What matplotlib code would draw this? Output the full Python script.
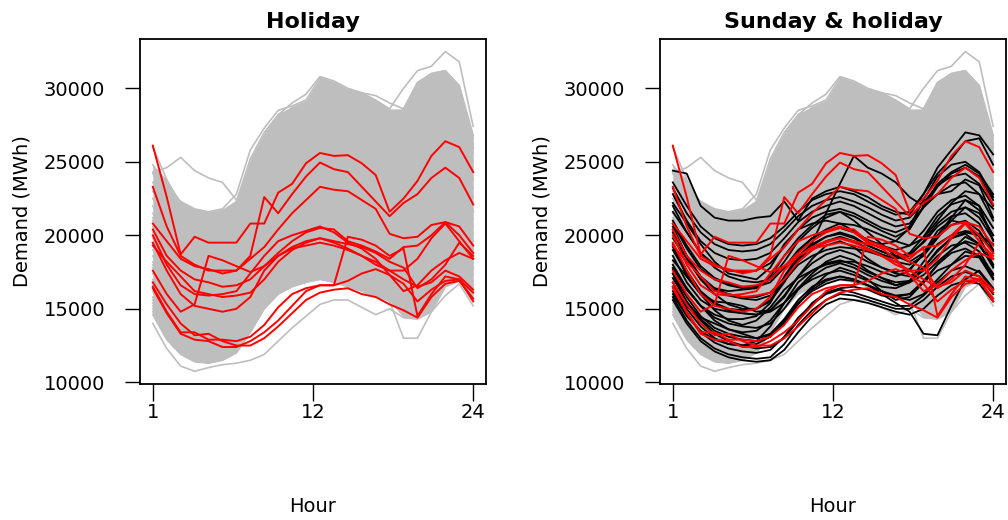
import numpy as np
import matplotlib
matplotlib.use("Agg")
import matplotlib.pyplot as plt

hours = np.arange(1, 25)

# demand per hour, in thousands of MWh
grey_days = [
    [24.8, 23.3, 22.3, 21.8, 21.6, 21.8, 22.8, 25.8, 27.3, 28.5, 28.8, 29.2, 30.7, 30.4, 29.9, 29.7, 29.2, 28.6, 30.0, 31.2, 31.5, 32.5, 31.8, 27.4],
    [24.2, 22.6, 21.5, 21.0, 20.8, 21.0, 22.3, 25.2, 27.0, 28.2, 28.6, 29.0, 29.6, 29.3, 28.8, 28.3, 27.6, 27.2, 28.6, 30.4, 31.0, 31.2, 30.2, 26.8],
    [23.6, 22.0, 21.0, 20.4, 20.2, 20.5, 21.6, 24.5, 26.3, 27.5, 27.9, 28.2, 28.6, 28.3, 27.8, 27.3, 26.8, 26.6, 28.0, 29.8, 30.5, 30.6, 29.6, 26.2],
    [23.0, 21.4, 20.3, 19.8, 19.6, 19.9, 21.0, 23.8, 25.6, 26.8, 27.2, 27.5, 27.9, 27.5, 27.0, 26.6, 26.2, 26.1, 27.6, 29.2, 29.9, 30.0, 29.0, 25.6],
    [22.5, 20.8, 19.8, 19.2, 19.0, 19.3, 20.5, 23.2, 25.2, 26.6, 27.6, 28.4, 29.2, 29.0, 28.6, 28.0, 27.0, 26.0, 26.3, 27.4, 28.2, 28.4, 27.5, 24.6],
    [22.0, 20.3, 19.2, 18.7, 18.5, 18.8, 19.8, 22.5, 24.5, 25.8, 26.3, 26.7, 27.0, 26.7, 26.2, 25.8, 25.4, 25.3, 26.8, 28.5, 29.2, 29.4, 28.3, 25.0],
    [21.5, 19.8, 18.7, 18.2, 18.0, 18.3, 19.3, 21.9, 23.9, 25.1, 25.6, 26.0, 26.3, 26.0, 25.6, 25.2, 24.8, 24.7, 26.2, 27.8, 28.6, 28.8, 27.7, 24.4],
    [21.0, 19.3, 18.2, 17.6, 17.4, 17.7, 18.8, 21.4, 23.4, 24.6, 25.1, 25.5, 25.8, 25.4, 24.9, 24.4, 23.9, 23.8, 25.3, 27.0, 27.7, 27.9, 26.8, 23.8],
    [20.6, 18.9, 17.8, 17.2, 17.0, 17.2, 18.3, 20.9, 22.9, 24.1, 24.6, 25.0, 25.3, 24.9, 24.4, 23.9, 23.3, 23.1, 24.5, 26.2, 27.0, 27.2, 26.1, 23.2],
    [20.2, 18.5, 17.4, 16.8, 16.6, 16.8, 17.9, 20.4, 22.4, 23.6, 24.1, 24.5, 24.8, 24.4, 23.9, 23.4, 22.8, 22.6, 23.9, 25.5, 26.3, 26.5, 25.4, 22.6],
    [19.8, 18.1, 17.0, 16.4, 16.2, 16.4, 17.4, 19.9, 21.8, 23.0, 23.5, 23.9, 24.2, 23.8, 23.3, 22.8, 22.3, 22.1, 23.3, 24.8, 25.6, 25.8, 24.8, 22.1],
    [19.4, 17.7, 16.6, 16.0, 15.8, 16.0, 17.0, 19.4, 21.3, 22.5, 23.0, 23.4, 23.6, 23.2, 22.7, 22.2, 21.7, 21.5, 22.7, 24.2, 25.0, 25.2, 24.2, 21.6],
    [19.0, 17.3, 16.3, 15.7, 15.5, 15.7, 16.7, 19.0, 20.8, 22.0, 22.4, 22.8, 23.0, 22.6, 22.1, 21.6, 21.1, 20.9, 22.1, 23.6, 24.4, 24.6, 23.6, 21.1],
    [18.6, 16.9, 15.9, 15.3, 15.1, 15.3, 16.3, 18.5, 20.3, 21.4, 21.8, 22.2, 22.4, 22.0, 21.5, 21.0, 20.5, 20.3, 21.5, 23.0, 23.8, 24.0, 23.0, 20.6],
    [18.2, 16.5, 15.5, 14.9, 14.7, 14.9, 15.9, 18.0, 19.8, 20.8, 21.2, 21.6, 21.8, 21.4, 20.9, 20.4, 19.9, 19.7, 20.9, 22.4, 23.2, 23.4, 22.4, 20.1],
    [17.8, 16.1, 15.1, 14.6, 14.4, 14.6, 15.5, 17.5, 19.3, 20.3, 20.7, 21.0, 21.2, 20.8, 20.3, 19.8, 19.3, 19.2, 20.3, 21.8, 22.6, 22.8, 21.8, 19.6],
    [17.4, 15.7, 14.7, 14.2, 14.0, 14.2, 15.1, 17.0, 18.8, 19.8, 20.2, 20.5, 20.7, 20.3, 19.8, 19.3, 18.8, 18.7, 19.8, 21.2, 22.0, 22.2, 21.2, 19.1],
    [17.0, 15.3, 14.3, 13.8, 13.6, 13.8, 14.7, 16.6, 18.3, 19.3, 19.7, 20.0, 20.2, 19.8, 19.3, 18.8, 18.3, 18.2, 19.2, 20.6, 21.4, 21.6, 20.7, 18.6],
    [16.6, 14.9, 13.9, 13.4, 13.2, 13.4, 14.3, 16.1, 17.8, 18.8, 19.2, 19.5, 19.7, 19.3, 18.8, 18.3, 17.8, 17.7, 18.7, 20.0, 20.8, 21.0, 20.2, 18.1],
    [16.2, 14.5, 13.5, 13.0, 12.8, 13.0, 13.9, 15.6, 17.3, 18.3, 18.7, 19.0, 19.2, 18.8, 18.3, 17.8, 17.4, 17.3, 18.2, 19.4, 20.2, 20.4, 19.7, 17.7],
    [15.8, 14.1, 13.1, 12.6, 12.4, 12.6, 13.5, 15.1, 16.8, 17.8, 18.2, 18.5, 18.7, 18.3, 17.8, 17.4, 17.0, 16.9, 17.7, 18.8, 19.6, 19.8, 19.2, 17.3],
    [15.4, 13.7, 12.7, 12.2, 12.0, 12.2, 13.0, 14.6, 16.2, 17.2, 17.6, 17.9, 18.1, 17.8, 17.4, 17.0, 16.6, 16.5, 17.2, 18.2, 19.0, 19.2, 18.7, 16.9],
    [15.0, 13.3, 12.3, 11.8, 11.6, 11.8, 12.5, 14.0, 15.6, 16.6, 17.0, 17.3, 17.5, 17.2, 16.9, 16.6, 16.2, 16.1, 16.7, 17.6, 18.4, 18.6, 18.2, 16.5],
    [14.6, 12.9, 11.9, 11.4, 11.3, 11.5, 12.0, 13.4, 15.0, 16.0, 16.5, 16.8, 17.0, 16.8, 16.5, 16.2, 15.8, 15.8, 16.3, 17.1, 17.8, 18.0, 17.7, 16.1],
    [14.0, 12.3, 11.1, 10.75, 11.0, 11.2, 11.3, 11.5, 11.9, 12.8, 13.7, 14.5, 15.3, 15.6, 15.6, 15.1, 14.6, 15.0, 14.4, 14.3, 14.8, 15.9, 16.7, 15.2],
    [15.2, 13.5, 12.5, 12.0, 11.8, 11.9, 12.6, 13.8, 15.2, 16.2, 16.8, 17.2, 17.5, 17.4, 17.2, 16.6, 16.2, 15.5, 13.0, 13.0, 14.8, 16.5, 16.9, 15.6],
    [24.3, 24.6, 25.3, 24.4, 23.9, 23.6, 22.4, 23.0, 25.0, 26.6, 27.2, 27.6, 28.2, 27.9, 27.5, 27.1, 26.5, 26.4, 27.8, 29.4, 30.1, 30.3, 29.3, 25.9],
    [26.0, 23.8, 22.0, 21.0, 20.6, 20.8, 21.8, 24.6, 26.6, 27.9, 28.4, 28.8, 29.2, 28.8, 28.3, 27.8, 27.3, 27.0, 28.6, 30.3, 31.0, 31.2, 30.1, 26.6],
    [21.2, 19.4, 18.4, 17.9, 17.7, 18.0, 19.8, 23.8, 26.6, 28.2, 29.0, 29.6, 30.8, 30.5, 30.0, 29.7, 29.5, 29.0, 28.6, 29.0, 29.6, 30.0, 29.2, 26.0],
    [18.0, 16.4, 15.4, 14.9, 14.7, 15.0, 16.4, 19.6, 22.4, 24.0, 24.8, 25.4, 25.8, 25.5, 25.0, 24.4, 23.6, 23.0, 23.2, 24.3, 25.2, 25.5, 24.6, 21.6],
    [16.8, 15.1, 14.1, 13.6, 13.5, 13.7, 14.8, 17.4, 19.6, 21.0, 21.6, 22.0, 22.3, 22.0, 21.6, 21.1, 20.5, 20.0, 20.4, 21.4, 22.2, 22.4, 21.5, 19.0],
    [20.0, 18.2, 17.0, 16.5, 16.3, 16.6, 18.0, 21.5, 24.0, 25.6, 26.2, 26.8, 27.2, 26.9, 26.4, 25.9, 25.3, 24.9, 25.8, 27.2, 27.9, 28.0, 27.0, 23.8],
    [15.6, 13.9, 12.9, 12.4, 12.2, 12.4, 13.6, 16.0, 18.0, 19.3, 19.8, 20.2, 20.5, 20.2, 19.8, 19.3, 18.7, 18.3, 18.8, 19.8, 20.6, 20.8, 20.0, 17.8],
    [14.8, 13.0, 12.0, 11.6, 11.5, 11.7, 12.4, 14.2, 16.0, 17.2, 17.8, 18.2, 18.6, 18.3, 17.9, 17.4, 16.9, 16.6, 17.2, 18.3, 19.0, 19.2, 18.6, 16.6],
]

sunday_days = [
    [24.4, 24.2, 22.0, 21.2, 21.0, 21.0, 21.2, 21.3, 22.3, 21.0, 22.5, 23.0, 23.3, 23.0, 22.6, 22.0, 21.6, 21.4, 22.8, 24.6, 25.8, 27.0, 26.8, 25.5],
    [23.6, 22.0, 20.6, 19.8, 19.4, 19.3, 19.4, 19.8, 20.6, 21.6, 22.4, 22.8, 23.0, 22.8, 22.3, 21.8, 21.4, 21.6, 22.8, 24.2, 25.2, 26.4, 26.6, 24.8],
    [22.8, 21.0, 19.6, 18.8, 18.4, 18.3, 18.4, 18.8, 19.8, 20.9, 21.6, 22.0, 22.3, 22.0, 21.5, 21.0, 20.6, 20.8, 21.9, 23.3, 24.2, 24.6, 24.0, 22.4],
    [22.2, 20.8, 19.4, 18.2, 17.4, 17.2, 17.0, 17.8, 19.4, 20.4, 20.8, 21.0, 20.8, 20.3, 19.6, 19.4, 19.6, 20.5, 21.9, 22.8, 23.0, 23.8, 23.4, 21.2],
    [21.6, 20.2, 18.8, 17.8, 17.2, 16.9, 16.8, 17.0, 17.8, 18.9, 19.8, 20.4, 20.8, 20.7, 20.4, 20.0, 19.6, 19.3, 19.8, 21.0, 22.2, 23.0, 22.8, 21.8],
    [21.0, 19.3, 17.9, 17.1, 16.7, 16.5, 16.5, 16.8, 17.8, 19.0, 19.8, 20.3, 20.5, 20.2, 19.7, 19.3, 19.0, 19.3, 20.3, 21.6, 22.4, 22.7, 22.0, 20.5],
    [20.6, 18.6, 17.0, 16.4, 16.2, 16.3, 16.4, 17.2, 18.6, 19.8, 20.7, 21.4, 21.6, 21.0, 20.2, 19.4, 18.6, 18.2, 18.8, 20.0, 21.2, 22.4, 22.0, 19.6],
    [20.2, 18.5, 17.1, 16.3, 15.9, 15.7, 15.6, 15.9, 16.9, 18.2, 19.0, 19.6, 19.9, 19.6, 19.1, 18.7, 18.4, 18.6, 19.6, 20.8, 21.6, 21.9, 21.2, 19.7],
    [19.8, 18.4, 17.0, 16.0, 15.3, 15.0, 15.0, 15.6, 16.9, 18.0, 18.6, 19.0, 19.2, 19.1, 18.9, 18.6, 18.2, 18.0, 18.6, 19.8, 21.0, 21.9, 21.5, 20.0],
    [19.4, 17.2, 16.0, 15.5, 15.4, 15.2, 14.8, 14.9, 15.8, 17.2, 18.4, 19.3, 19.6, 19.2, 18.4, 17.8, 17.4, 17.2, 17.8, 18.9, 19.8, 20.2, 20.0, 19.4],
    [19.0, 17.4, 16.1, 15.3, 14.9, 14.7, 14.6, 14.9, 15.9, 17.2, 18.1, 18.7, 19.0, 18.7, 18.2, 17.8, 17.5, 17.7, 18.7, 19.9, 20.7, 21.0, 20.3, 18.8],
    [18.6, 16.8, 15.6, 15.0, 14.8, 14.7, 14.6, 14.8, 15.4, 16.4, 17.4, 18.2, 18.6, 18.3, 17.6, 17.1, 16.6, 16.9, 18.2, 19.4, 20.0, 20.3, 20.1, 18.9],
    [18.3, 17.2, 16.0, 14.9, 14.2, 13.9, 14.2, 15.1, 16.3, 17.1, 17.6, 18.0, 18.2, 18.2, 17.9, 17.5, 17.2, 17.6, 18.8, 20.3, 21.0, 20.8, 19.9, 18.0],
    [18.0, 16.4, 15.2, 14.4, 14.0, 13.8, 13.7, 14.0, 15.0, 16.3, 17.2, 17.8, 18.1, 17.8, 17.3, 16.9, 16.6, 16.8, 17.8, 19.0, 19.8, 20.1, 19.4, 17.9],
    [17.7, 16.4, 15.2, 14.2, 13.6, 13.4, 13.5, 14.2, 15.4, 16.4, 17.0, 17.4, 17.6, 17.3, 16.9, 16.5, 16.4, 16.8, 17.3, 18.2, 19.0, 19.6, 19.3, 18.0],
    [17.4, 15.4, 14.4, 14.0, 13.6, 13.3, 13.0, 13.2, 14.0, 15.3, 16.4, 17.3, 17.8, 17.5, 17.0, 16.2, 15.6, 15.8, 16.8, 18.0, 19.0, 19.9, 19.4, 17.8],
    [17.1, 15.5, 14.3, 13.5, 13.1, 12.9, 12.8, 13.1, 14.1, 15.4, 16.3, 16.9, 17.2, 17.0, 16.6, 16.2, 15.9, 16.0, 16.9, 18.0, 18.8, 19.1, 18.6, 17.1],
    [16.8, 15.0, 13.8, 13.0, 12.6, 12.5, 12.6, 13.1, 14.2, 15.4, 16.2, 16.7, 17.0, 16.9, 16.6, 16.2, 15.8, 15.6, 16.0, 17.0, 18.0, 18.9, 18.6, 17.4],
    [16.5, 15.2, 14.2, 13.3, 12.8, 12.5, 12.3, 12.4, 13.0, 14.2, 15.4, 16.1, 16.4, 16.5, 16.3, 15.9, 15.8, 16.0, 16.8, 17.6, 18.0, 18.6, 18.5, 17.0],
    [16.2, 14.6, 13.4, 12.7, 12.3, 12.1, 12.0, 12.2, 13.1, 14.4, 15.3, 16.0, 16.3, 16.1, 15.8, 15.5, 15.2, 15.2, 15.9, 16.8, 17.6, 17.9, 17.5, 16.3],
    [15.8, 14.2, 13.0, 12.3, 11.9, 11.7, 11.6, 11.7, 12.6, 13.9, 14.9, 15.6, 16.0, 15.9, 15.6, 15.3, 15.0, 15.0, 15.6, 16.5, 17.2, 17.5, 17.2, 16.0],
    [17.4, 15.8, 14.5, 13.7, 13.3, 13.1, 13.0, 13.3, 14.3, 15.6, 16.5, 17.0, 17.2, 17.0, 16.6, 16.0, 15.4, 14.8, 13.3, 13.2, 15.2, 17.0, 17.6, 16.4],
    [20.4, 18.6, 17.2, 16.4, 16.0, 15.8, 15.8, 16.1, 17.1, 18.4, 19.5, 21.5, 23.5, 25.4, 24.6, 24.2, 23.6, 22.6, 22.0, 22.8, 23.4, 23.6, 22.8, 21.0],
    [20.8, 19.1, 17.7, 17.0, 16.6, 16.4, 16.5, 17.0, 18.2, 19.6, 20.5, 21.2, 21.6, 21.3, 20.8, 20.3, 19.9, 20.4, 22.0, 23.5, 24.3, 24.8, 24.2, 22.8],
    [22.0, 20.2, 18.8, 18.0, 17.6, 17.5, 17.6, 18.1, 19.2, 20.4, 21.2, 21.6, 21.8, 21.5, 21.0, 20.5, 20.2, 20.6, 22.4, 24.0, 24.8, 25.0, 24.3, 22.6],
    [17.8, 16.3, 15.2, 14.6, 14.3, 14.3, 14.5, 15.4, 17.2, 18.6, 19.4, 19.9, 20.1, 19.8, 19.3, 18.9, 18.6, 18.7, 19.5, 20.6, 21.3, 21.5, 20.8, 19.0],
    [16.0, 14.5, 13.5, 12.9, 12.6, 12.5, 12.8, 13.8, 15.4, 16.8, 17.6, 18.1, 18.3, 18.0, 17.5, 17.1, 16.8, 16.9, 17.6, 18.6, 19.3, 19.5, 18.9, 17.3],
    [15.6, 14.0, 12.8, 12.1, 11.7, 11.5, 11.4, 11.5, 12.2, 13.4, 14.5, 15.3, 15.7, 15.6, 15.4, 15.1, 14.8, 14.6, 15.0, 15.9, 16.6, 16.9, 16.7, 15.5],
    [19.2, 17.6, 16.2, 15.4, 15.0, 14.9, 15.0, 15.5, 16.8, 18.3, 19.3, 19.9, 20.2, 19.9, 19.3, 18.9, 18.5, 18.8, 19.9, 21.3, 22.1, 22.4, 21.7, 20.0],
    [23.2, 21.5, 20.2, 19.4, 19.0, 18.9, 19.0, 19.4, 20.3, 21.3, 22.0, 22.4, 22.6, 22.3, 21.9, 21.4, 21.0, 21.2, 22.2, 23.4, 24.0, 24.2, 23.5, 22.0],
]

holiday_days = [
    [26.1, 22.6, 18.7, 19.9, 19.5, 19.5, 19.5, 20.8, 20.8, 22.9, 23.5, 24.9, 25.6, 25.4, 25.45, 24.9, 24.1, 21.6, 22.5, 23.7, 25.4, 26.4, 26.0, 24.3],
    [23.3, 20.6, 18.6, 18.0, 17.6, 17.6, 17.6, 18.6, 22.6, 21.5, 22.8, 24.0, 24.95, 24.5, 24.3, 23.3, 22.3, 21.3, 22.2, 22.8, 23.9, 24.6, 23.9, 22.1],
    [20.8, 19.6, 18.4, 17.9, 17.7, 17.4, 17.6, 18.4, 19.2, 20.4, 21.5, 22.4, 23.3, 23.1, 23.0, 22.4, 21.8, 20.1, 19.8, 19.9, 20.7, 20.9, 20.6, 19.3],
    [20.4, 18.6, 17.6, 17.0, 16.8, 16.5, 16.6, 17.0, 17.9, 18.8, 19.6, 20.2, 20.5, 20.4, 19.6, 19.3, 18.9, 18.4, 19.2, 19.3, 20.0, 20.9, 20.0, 18.8],
    [19.3, 18.2, 17.2, 16.2, 16.0, 15.8, 15.9, 16.1, 17.0, 18.2, 19.0, 19.5, 19.8, 19.6, 19.4, 19.2, 18.8, 18.2, 17.8, 16.4, 17.0, 18.0, 19.5, 18.6],
    [17.6, 16.0, 14.8, 15.3, 18.6, 18.3, 17.9, 17.5, 17.9, 18.6, 19.1, 19.3, 19.5, 19.3, 19.0, 18.6, 18.2, 17.6, 17.0, 16.5, 16.8, 17.6, 17.2, 16.3],
    [16.8, 15.3, 14.0, 13.2, 13.3, 12.8, 12.5, 12.5, 13.0, 13.8, 14.7, 15.6, 16.1, 16.3, 16.4, 16.0, 15.8, 15.3, 14.9, 14.4, 15.8, 16.7, 16.9, 15.7],
    [16.5, 14.8, 13.4, 13.4, 12.9, 12.9, 12.8, 13.1, 13.9, 15.1, 16.0, 16.4, 16.6, 16.6, 16.9, 17.4, 17.7, 17.3, 16.7, 15.5, 16.3, 16.9, 17.0, 15.5],
    [16.4, 14.7, 13.3, 12.9, 12.8, 12.4, 12.4, 12.8, 13.4, 14.2, 15.2, 16.2, 16.6, 16.6, 19.9, 19.7, 19.3, 18.6, 19.1, 14.5, 16.0, 17.2, 17.0, 16.1],
    [19.5, 17.6, 16.0, 15.2, 15.0, 14.8, 15.0, 15.8, 17.6, 18.6, 19.2, 19.6, 19.8, 19.5, 19.1, 18.6, 18.0, 17.6, 17.6, 18.4, 19.8, 20.8, 19.6, 18.4],
    [20.0, 18.0, 16.6, 16.0, 15.9, 16.0, 16.2, 17.4, 18.6, 19.6, 20.0, 20.3, 20.6, 20.2, 19.5, 19.1, 18.4, 17.3, 16.2, 16.6, 17.6, 18.3, 18.8, 18.4],
]

titles = ["Holiday", "Sunday & holiday"]
x_ticks = [1, 12.5, 24]
x_ticklabels = ["1", "12", "24"]
y_ticks = [10000, 15000, 20000, 25000, 30000]

grey = np.array(grey_days) * 1000
sunday = np.array(sunday_days) * 1000
holiday = np.array(holiday_days) * 1000

# dense band of the hundreds of ordinary days
srt = np.sort(grey, axis=0)
band_lo, band_hi = srt[1], srt[-2]

fig = plt.figure(figsize=(10.08, 5.2), dpi=100)
W, H = 1008, 520

for i, title in enumerate(titles):
    left = 140 + 520 * i
    ax = fig.add_axes([left / W, 1 - 384 / H, 346 / W, 345 / H])
    ax.fill_between(hours, band_lo, band_hi, color="#BEBEBE", lw=0, zorder=1)
    for d in grey:
        ax.plot(hours, d, color="#BEBEBE", lw=1.2, zorder=2)
    if i == 1:
        for d in sunday:
            ax.plot(hours, d, color="black", lw=1.3, zorder=3)
    for d in holiday:
        ax.plot(hours, d, color="red", lw=1.4, zorder=4)

    ax.set_xlim(0.08, 24.92)
    ax.set_ylim(9884, 33354)
    ax.set_xticks(x_ticks)
    ax.set_xticklabels(x_ticklabels)
    ax.set_yticks(y_ticks)
    ax.tick_params(axis="x", length=12.5, width=1, pad=1, labelsize=14)
    ax.tick_params(axis="y", length=11, width=1, pad=14, labelsize=14)
    for s in ax.spines.values():
        s.set_linewidth(1.3)

    ax.text(0.5, 1 + 17 / 345, title, transform=ax.transAxes, ha="center",
            va="center", fontsize=16, fontweight="bold")
    ax.text(0.5, -123 / 345, "Hour", transform=ax.transAxes, ha="center",
            va="center", fontsize=14)
    ax.text(-118 / 346, 0.5, "Demand (MWh)", transform=ax.transAxes,
            ha="center", va="center", rotation=90, fontsize=14)

fig.savefig("out.png", dpi=100)
